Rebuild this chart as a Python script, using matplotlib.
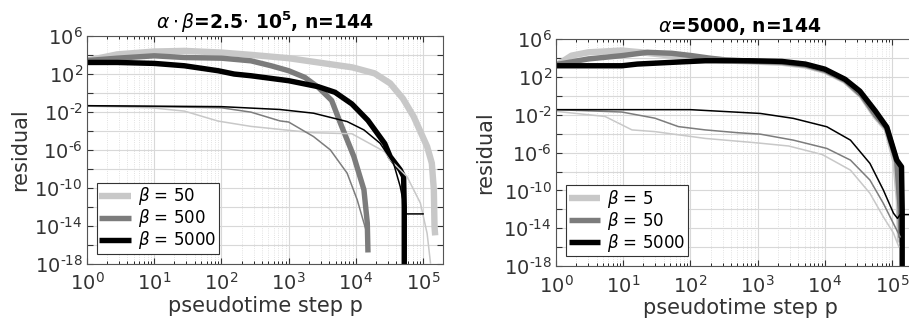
import numpy as np
import matplotlib
matplotlib.use("Agg")
import matplotlib.pyplot as plt
from matplotlib.ticker import FixedLocator, FixedFormatter, LogLocator, NullFormatter

# log10(step), log10(residual)
# left panel: alpha*beta = 2.5e5
L_b50_thick_x = [0, 0.45, 1, 1.45, 2, 2.44, 3, 3.44, 3.95, 4.28, 4.51, 4.7, 4.86, 5.06, 5.13, 5.16, 5.17, 5.18]
L_b50_thick_y = [3.4, 4.05, 4.35, 4.42, 4.24, 4.0, 3.65, 3.2, 2.68, 2.05, 1.0, -0.6, -2.5, -5.65, -7.4, -10.2, -14.1, -15.0]
L_b50_thin_x = [0, 0.95, 1.45, 1.95, 2.44, 3, 3.37, 3.94, 4.12, 4.43, 4.51, 4.76, 4.96, 5.06, 5.11]
L_b50_thin_y = [-1.4, -1.57, -1.92, -2.97, -3.53, -3.94, -4.2, -4.3, -5.0, -6.2, -7.05, -8.8, -11.6, -14.8, -17.9]
L_b500_thick_x = [0, 0.45, 1, 1.45, 2, 2.44, 2.74, 3, 3.24, 3.44, 3.64, 3.77, 3.97, 4.12, 4.17, 4.18]
L_b500_thick_y = [3.4, 3.65, 3.9, 3.72, 3.65, 3.37, 2.85, 2.33, 1.63, 0.59, -0.8, -3.19, -6.7, -10.2, -13.7, -16.8]
L_b500_thin_x = [0, 1, 2, 2.44, 2.87, 3, 3.37, 3.62, 3.87, 4.02, 4.12, 4.18]
L_b500_thin_y = [-1.35, -1.45, -1.57, -2.03, -2.95, -3.07, -4.6, -6.0, -8.45, -11.26, -13.7, -15.1]
L_b5000_thick_x = [0, 0.45, 1, 1.45, 1.95, 2.19, 2.44, 3, 3.44, 3.69, 3.94, 4.18, 4.43, 4.51, 4.66, 4.71, 4.72, 4.72]
L_b5000_thick_y = [3.2, 3.2, 3.1, 2.85, 2.33, 1.98, 1.8, 1.28, 0.65, 0.06, -1.16, -2.9, -5.34, -6.7, -8.1, -8.8, -12, -18.5]
L_b5000_thin_x = [0, 2, 2.87, 3.37, 3.87, 4.12, 4.36, 4.56, 4.66, 4.72, 4.72, 5.0]
L_b5000_thin_y = [-1.35, -1.45, -1.75, -2.14, -3.02, -3.9, -5.3, -7.4, -9.86, -11.97, -12.74, -12.74]

# right panel: alpha = 5000
R_b5_thick_x = [0, 0.23, 0.48, 0.98, 1.27, 1.72, 2.02, 2.5, 2.86, 3.36, 3.71, 4.0, 4.3, 4.55, 4.75, 4.92, 5.05, 5.1, 5.12]
R_b5_thick_y = [3.2, 4.25, 4.6, 4.79, 4.6, 4.25, 4.0, 3.75, 3.65, 3.5, 3.2, 2.65, 1.6, 0.0, -2.1, -3.5, -7.0, -11, -15.5]
R_b5_thin_x = [0, 0.73, 1.13, 1.47, 2.22, 2.96, 3.46, 3.96, 4.38, 4.67, 4.87, 5.02, 5.1]
R_b5_thin_y = [-1.64, -2.18, -3.6, -3.78, -4.5, -4.95, -5.3, -6.2, -7.85, -10.3, -12.8, -14.5, -15.95]
R_b50_thick_x = [0, 0.48, 0.98, 1.36, 1.72, 2.02, 2.27, 2.52, 2.86, 3.36, 3.71, 4.0, 4.3, 4.55, 4.75, 4.92, 5.07, 5.12, 5.13]
R_b50_thick_y = [3.3, 3.9, 4.25, 4.6, 4.5, 4.25, 4.0, 3.8, 3.68, 3.55, 3.25, 2.7, 1.65, 0.05, -2.0, -3.4, -7.0, -12, -15.0]
R_b50_thin_x = [0, 0.98, 1.47, 1.82, 2.22, 2.71, 3.04, 3.53, 4.03, 4.38, 4.67, 4.87, 5.02, 5.12]
R_b50_thin_y = [-1.46, -1.71, -2.36, -3.25, -3.6, -3.9, -4.05, -4.68, -5.56, -6.79, -8.9, -11.37, -13.5, -14.9]
R_b5000_thick_x = [0, 0.98, 1.21, 1.72, 2.22, 2.86, 3.36, 3.71, 4.0, 4.3, 4.52, 4.75, 4.92, 5.07, 5.14, 5.15, 5.15]
R_b5000_thick_y = [3.18, 3.18, 3.36, 3.54, 3.71, 3.71, 3.64, 3.36, 2.82, 1.75, 0.5, -1.6, -3.3, -6.8, -7.5, -12, -18.5]
R_b5000_thin_x = [0, 2.0, 3.04, 3.53, 4.03, 4.38, 4.67, 4.87, 5.02, 5.08, 5.12, 5.4]
R_b5000_thin_y = [-1.46, -1.46, -1.86, -2.38, -3.27, -4.68, -7.14, -9.96, -12.4, -12.95, -12.55, -12.55]

left_labels = ["$\\beta$ = 50", "$\\beta$ = 500", "$\\beta$ = 5000"]
right_labels = ["$\\beta$ = 5", "$\\beta$ = 50", "$\\beta$ = 5000"]
colors = ["#c8c8c8", "#7c7c7c", "#000000"]
thick_w = [4.6, 3.9, 3.9]

plt.rcParams["font.family"] = "DejaVu Sans"
fig = plt.figure(figsize=(9.09, 3.23), dpi=100)
ax1 = fig.add_axes([0.0957, 0.183, 0.392, 0.706])
# right panel runs past the picture's right edge, as in the original
ax2 = fig.add_axes([0.6117, 0.176, 0.405, 0.703])


def draw(ax, thick, thin, labels, title, ylab_x, xmax):
    for (x, y), lw, c, lab in zip(thick, thick_w, colors, labels):
        ax.plot(10 ** np.array(x), 10 ** np.array(y), color=c, lw=lw, label=lab,
                solid_capstyle="butt", solid_joinstyle="round")
    for (x, y), c in zip(thin, colors):
        ax.plot(10 ** np.array(x), 10 ** np.array(y), color=c, lw=1.1)
    ax.set_xscale("log")
    ax.set_yscale("log")
    ax.set_xlim(1, xmax)
    ax.set_ylim(1e-18, 1e6)
    yt = [10.0 ** k for k in range(-18, 7, 2)]
    ylab = [("$10^{\\text{%d}}$" % k) if (k - 6) % 4 == 0 else "" for k in range(-18, 7, 2)]
    ax.yaxis.set_major_locator(FixedLocator(yt))
    ax.yaxis.set_major_formatter(FixedFormatter(ylab))
    ax.yaxis.set_minor_locator(FixedLocator([]))
    ax.xaxis.set_major_locator(FixedLocator([10.0 ** k for k in range(0, 6)]))
    ax.xaxis.set_minor_locator(LogLocator(base=10, subs=np.arange(2, 10), numticks=20))
    ax.xaxis.set_minor_formatter(NullFormatter())
    ax.grid(which="major", color="#d8d8d8", lw=0.8)
    ax.grid(which="minor", axis="x", color="#d8d8d8", lw=0.6, ls=":")
    ax.tick_params(labelsize=14, colors="#333333", direction="in", length=4,
                   top=True, right=True)
    ax.tick_params(axis="x", pad=6)
    ax.tick_params(axis="y", pad=3)
    ax.tick_params(which="minor", direction="in", length=2, top=True)
    for s in ax.spines.values():
        s.set_color("#555555")
    ax.set_xlabel("pseudotime step p", fontsize=15, color="#333333", labelpad=1)
    ax.set_ylabel("residual", fontsize=15, color="#333333")
    ax.yaxis.set_label_coords(ylab_x, 0.5)
    ax.set_title(title, fontsize=13.5, fontweight="bold", pad=5)
    leg = ax.legend(loc="lower left", fontsize=12, handlelength=1.9, borderaxespad=0.6,
                    fancybox=False, framealpha=1, edgecolor="#333333",
                    borderpad=0.15, labelspacing=0.0, handletextpad=0.4)
    leg.get_frame().set_linewidth(0.8)


draw(ax1,
     [(L_b50_thick_x, L_b50_thick_y), (L_b500_thick_x, L_b500_thick_y), (L_b5000_thick_x, L_b5000_thick_y)],
     [(L_b50_thin_x, L_b50_thin_y), (L_b500_thin_x, L_b500_thin_y), (L_b5000_thin_x, L_b5000_thin_y)],
     left_labels, r"$\alpha\cdot\beta$=2.5$\cdot$ 10$^\mathbf{5}$, n=144", -0.16, 2e5)
draw(ax2,
     [(R_b5_thick_x, R_b5_thick_y), (R_b50_thick_x, R_b50_thick_y), (R_b5000_thick_x, R_b5000_thick_y)],
     [(R_b5_thin_x, R_b5_thin_y), (R_b50_thin_x, R_b50_thin_y), (R_b5000_thin_x, R_b5000_thin_y)],
     right_labels, r"$\alpha$=5000, n=144", -0.165, 3e5)

fig.savefig("out.png", dpi=100)
